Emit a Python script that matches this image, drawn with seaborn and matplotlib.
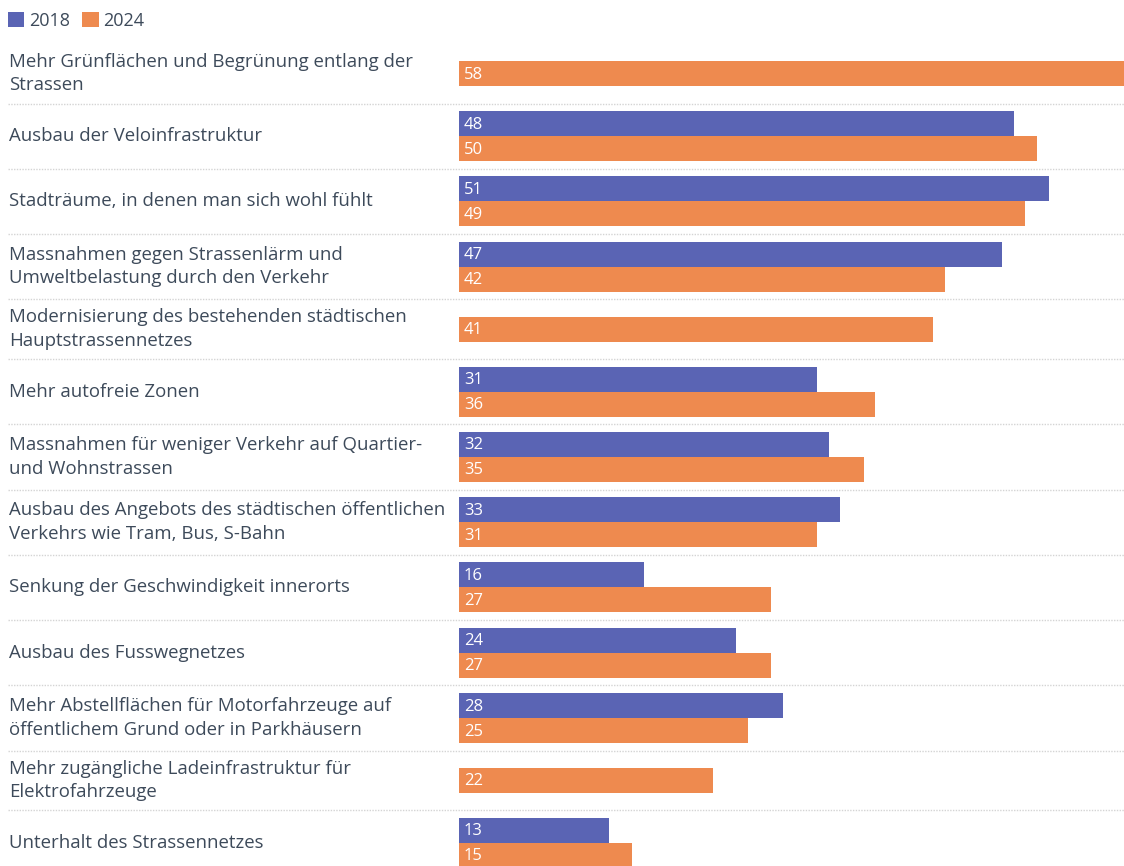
import matplotlib
matplotlib.use("Agg")
import matplotlib.pyplot as plt
from matplotlib.patches import Patch
import seaborn as sns
import numpy as np
import pandas as pd

# survey answers (percent), None = not asked in 2018
categories = [
    "Mehr Grünflächen und Begrünung entlang der\nStrassen",
    "Ausbau der Veloinfrastruktur",
    "Stadträume, in denen man sich wohl fühlt",
    "Massnahmen gegen Strassenlärm und\nUmweltbelastung durch den Verkehr",
    "Modernisierung des bestehenden städtischen\nHauptstrassennetzes",
    "Mehr autofreie Zonen",
    "Massnahmen für weniger Verkehr auf Quartier-\nund Wohnstrassen",
    "Ausbau des Angebots des städtischen öffentlichen\nVerkehrs wie Tram, Bus, S-Bahn",
    "Senkung der Geschwindigkeit innerorts",
    "Ausbau des Fusswegnetzes",
    "Mehr Abstellflächen für Motorfahrzeuge auf\nöffentlichem Grund oder in Parkhäusern",
    "Mehr zugängliche Ladeinfrastruktur für\nElektrofahrzeuge",
    "Unterhalt des Strassennetzes",
]
values_2018 = [None, 48, 51, 47, None, 31, 32, 33, 16, 24, 28, None, 13]
values_2024 = [58, 50, 49, 42, 41, 36, 35, 31, 27, 27, 25, 22, 15]
years = ["2018", "2024"]
colors = {"2018": "#5a64b4", "2024": "#ee8a4f"}

TEXT = "#3d4a5a"
W, H = 1124, 866
X0 = 459          # pixel where bars start
PX = 11.56        # pixels per percent
BAR = 25          # bar thickness (px)
ROW2, ROW1 = 65.3, 59.5
TOP = 44


def px(x):
    return (x - X0) / PX


sns.set_theme(style="white")
plt.rcParams["font.family"] = ["Open Sans", "DejaVu Sans"]

# layout rows (pixel units, y grows downward)
rows = []
y = TOP
for c, a, b in zip(categories, values_2018, values_2024):
    h = ROW2 if a is not None else ROW1
    rows.append((c, a, b, y, h))
    y += h

recs = []
for c, a, b, y0, h in rows:
    mid = y0 + h / 2
    if a is not None:
        recs.append({"pos": mid - BAR / 2, "value": a, "year": "2018"})
        recs.append({"pos": mid + BAR / 2, "value": b, "year": "2024"})
    else:
        recs.append({"pos": mid, "value": b, "year": "2024"})
df = pd.DataFrame(recs)

fig = plt.figure(figsize=(W / 100, H / 100), dpi=100)
ax = fig.add_axes([0, 0, 1, 1])

min_gap = np.min(np.diff(np.sort(df["pos"].unique())))
sns.barplot(data=df, x="value", y="pos", hue="year", palette=colors,
            orient="y", native_scale=True, dodge=False, saturation=1,
            width=BAR / min_gap, linewidth=0, legend=False, ax=ax)

ax.set_xlim(px(0), px(W))
ax.set_ylim(H, 0)
ax.axis("off")

for c, a, b, y0, h in rows:
    mid = y0 + h / 2
    ax.text(px(9), mid, c, ha="left", va="center", fontsize=13.4,
            color=TEXT, linespacing=1.38)
    if a is not None:
        ax.text(px(X0 + 5), mid - BAR / 2 + 1, str(a), ha="left", va="center",
                fontsize=12, color="white")
        ax.text(px(X0 + 5), mid + BAR / 2 + 1, str(b), ha="left", va="center",
                fontsize=12, color="white")
    else:
        ax.text(px(X0 + 5), mid + 1, str(b), ha="left", va="center",
                fontsize=12, color="white")
    # dotted separator under each row
    ax.plot([px(8), px(W)], [y0 + h, y0 + h], color="#d4d4d4",
            lw=1, ls=(0, (1, 1)), clip_on=False)

handles = [Patch(facecolor=colors[yr], edgecolor="none") for yr in years]
fig.legend(handles, years, loc="upper left",
           bbox_to_anchor=(8 / W, 1 - 12 / H),
           ncol=2, frameon=False, fontsize=13, labelcolor=TEXT,
           handlelength=0.9, handleheight=0.9, handletextpad=0.25,
           columnspacing=0.7, borderaxespad=0, borderpad=0)

fig.savefig("out.png", dpi=100)
